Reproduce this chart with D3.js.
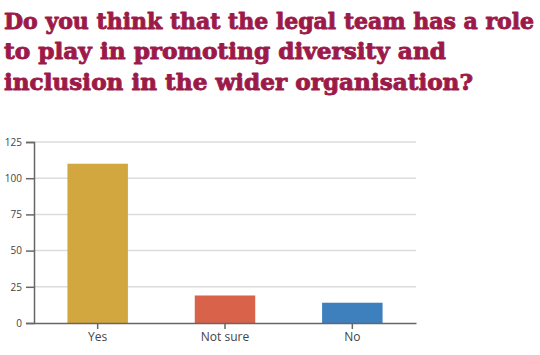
<!DOCTYPE html>
<html>
<head>
<meta charset="utf-8">
<script src="https://cdn.jsdelivr.net/npm/d3@7"></script>
<style>
  body { margin: 0; background: #fff; }
  svg { display: block; }
</style>
</head>
<body>
<div id="chart"></div>
<script>
// Survey answers and counts
const answers = ["Yes", "Not sure", "No"];
const counts = [110, 19, 14];
const barColors = ["#d3a73f", "#d9634a", "#3e7fbe"];
const yTicks = [0, 25, 50, 75, 100, 125];
const titleLines = [
    "Do you think that the legal team has a role",
    "to play in promoting diversity and",
    "inclusion in the wider organisation?"
];

const W = 540, H = 355;
const margin = { top: 142, right: 124, bottom: 32, left: 34 };
const width = W - margin.left - margin.right;
const height = H - margin.top - margin.bottom;

const svg = d3.select("#chart").append("svg")
    .attr("width", W)
    .attr("height", H);

// Title, squeezed to the widths in the original (stroke thickens the slab look)
const titleWidths = [530, 442, 469];
svg.selectAll(".title")
    .data(titleLines)
    .enter().append("text")
    .attr("class", "title")
    .attr("x", 4)
    .attr("y", (d, i) => 28.5 + i * 30.5)
    .attr("textLength", (d, i) => titleWidths[i])
    .attr("lengthAdjust", "spacingAndGlyphs")
    .style("font-family", "'DejaVu Serif', serif")
    .style("font-weight", "bold")
    .style("font-size", "22px")
    .style("fill", "#9c1a49")
    .style("stroke", "#9c1a49")
    .style("stroke-width", 0.9)
    .style("stroke-linejoin", "round")
    .text(d => d);

const g = svg.append("g")
    .attr("transform", `translate(${margin.left},${margin.top})`);

const x = d3.scaleBand()
    .domain(answers)
    .range([0, width])
    .paddingInner(0.525)
    .paddingOuter(0.2625);

const y = d3.scaleLinear()
    .domain([0, 125])
    .range([height, 0]);

// Gridlines
g.selectAll(".grid")
    .data(yTicks.filter(d => d > 0))
    .enter().append("line")
    .attr("class", "grid")
    .attr("x1", 0)
    .attr("x2", width)
    .attr("y1", d => y(d))
    .attr("y2", d => y(d))
    .style("stroke", "#dcdcdc")
    .style("stroke-width", 1.5);

// Bars
g.selectAll(".bar")
    .data(answers)
    .enter().append("rect")
    .attr("class", "bar")
    .attr("x", d => x(d))
    .attr("y", (d, i) => y(counts[i]))
    .attr("width", x.bandwidth())
    .attr("height", (d, i) => height - y(counts[i]))
    .style("fill", (d, i) => barColors[i]);

// Y axis
const yAxis = g.append("g")
    .call(d3.axisLeft(y).tickValues(yTicks).tickSize(8).tickPadding(4));
yAxis.select(".domain").style("stroke", "#666").style("stroke-width", 1.5);
yAxis.selectAll(".tick line").style("stroke", "#666").style("stroke-width", 1.5);
yAxis.selectAll("text")
    .style("font-family", "'Open Sans', sans-serif")
    .style("font-size", "10px")
    .style("fill", "#444");

// X axis
const xAxis = g.append("g")
    .attr("transform", `translate(0,${height})`)
    .call(d3.axisBottom(x).tickSize(6).tickSizeOuter(0).tickPadding(3));
xAxis.select(".domain").style("stroke", "#666").style("stroke-width", 1.5);
xAxis.selectAll(".tick line").style("stroke", "#666").style("stroke-width", 1.5);
xAxis.selectAll("text")
    .style("font-family", "'Open Sans', sans-serif")
    .style("font-size", "12px")
    .style("fill", "#444");
</script>
</body>
</html>
